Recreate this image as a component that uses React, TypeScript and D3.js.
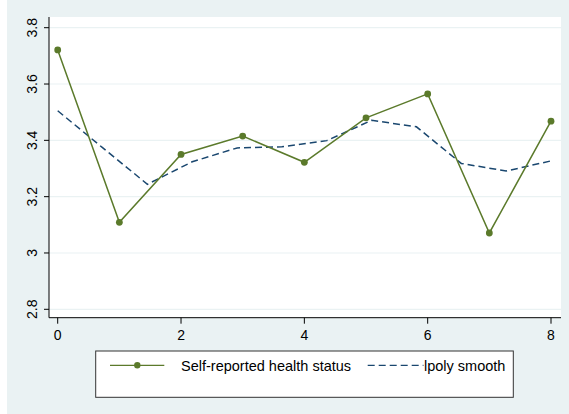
import React from "react";
import * as d3 from "d3";

const xTicks = [0, 2, 4, 6, 8];
const yTicks = [2.8, 3, 3.2, 3.4, 3.6, 3.8];
const yTickLabels = ["2.8", "3", "3.2", "3.4", "3.6", "3.8"];
const waves = [0, 1, 2, 3, 4, 5, 6, 7, 8];
const health = [3.721, 3.109, 3.35, 3.415, 3.322, 3.48, 3.565, 3.071, 3.468];
const smoothX = [0, 0.727, 1.455, 2.182, 2.909, 3.636, 4.364, 5.091, 5.818, 6.545, 7.273, 8];
const smoothY = [3.505, 3.374, 3.244, 3.324, 3.373, 3.377, 3.399, 3.471, 3.448, 3.318, 3.291, 3.327];
const seriesNames = ["Self-reported health status", "lpoly smooth"];

const W = 569, H = 414;
const GREEN = "#5b7a2b";
const NAVY = "#1a476f";
const BG = "#eaf2f3";
const FONT = "Liberation Sans, Arial, sans-serif";

export default function App() {
  const left = 49, right = 561, top = 17, bottom = 317.7;
  const x = d3.scaleLinear().domain([0, 8]).range([57.7, 551]);
  const y = d3.scaleLinear().domain([2.8, 3.8]).range([309.3, 27.7]);

  const line = d3.line<[number, number]>().x(d => x(d[0])).y(d => y(d[1]));
  const healthPts: [number, number][] = waves.map((w, i) => [w, health[i]]);
  const smoothPts: [number, number][] = smoothX.map((w, i) => [w, smoothY[i]]);

  return (
    <svg width={W} height={H} style={{ position: "absolute", left: 0, top: 0 }} fontFamily={FONT}>
      <rect x={0} y={0} width={W} height={H} fill="#ffffff" />
      <rect x={7} y={0} width={W - 7} height={H} fill={BG} />
      <rect x={left} y={top} width={right - left} height={bottom - top} fill="#ffffff" />
      {yTicks.map((t, i) => (
        <g key={i}>
          <line x1={left} x2={right} y1={y(t)} y2={y(t)} stroke={BG} strokeWidth={1.2} />
          <line x1={left - 5} x2={left} y1={y(t)} y2={y(t)} stroke="#000" strokeWidth={1} />
          <text transform={`translate(${36.5},${y(t)}) rotate(-90)`} textAnchor="middle" fontSize={14} fill="#000">
            {yTickLabels[i]}
          </text>
        </g>
      ))}
      {xTicks.map((t, i) => (
        <g key={i}>
          <line x1={x(t)} x2={x(t)} y1={bottom} y2={bottom + 6} stroke="#000" strokeWidth={1} />
          <text x={x(t)} y={340} textAnchor="middle" fontSize={14} fill="#000">{t}</text>
        </g>
      ))}
      <line x1={left} x2={left} y1={top} y2={bottom} stroke="#000" strokeWidth={1} />
      <line x1={left} x2={right} y1={bottom} y2={bottom} stroke="#000" strokeWidth={1} />

      <path d={line(smoothPts) || ""} fill="none" stroke={NAVY} strokeWidth={1.5} strokeDasharray="7,4" />
      <path d={line(healthPts) || ""} fill="none" stroke={GREEN} strokeWidth={1.5} />
      {healthPts.map((p, i) => (
        <circle key={i} cx={x(p[0])} cy={y(p[1])} r={3.4} fill={GREEN} />
      ))}

      <rect x={95.7} y={351} width={417.6} height={46.3} fill="#ffffff" stroke="#333" strokeWidth={1} />
      <line x1={110} x2={164.3} y1={365.3} y2={365.3} stroke={GREEN} strokeWidth={1.2} />
      <circle cx={137.3} cy={365.3} r={3.2} fill={GREEN} />
      <text x={181} y={370.7} fontSize={14.5} fill="#000">{seriesNames[0]}</text>
      <line x1={367.7} x2={423.5} y1={365.3} y2={365.3} stroke={NAVY} strokeWidth={1.2} strokeDasharray="7,4" />
      <text x={424} y={370.7} fontSize={14.5} fill="#000">{seriesNames[1]}</text>
    </svg>
  );
}
